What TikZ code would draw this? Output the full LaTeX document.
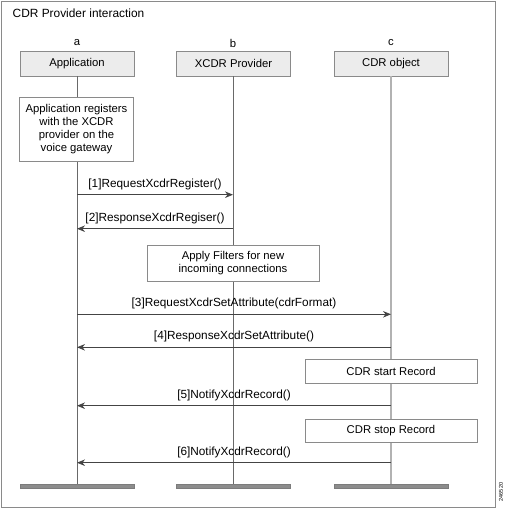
\documentclass[tikz,border=0pt]{standalone}
\usepackage{fontspec}
\setmainfont{Liberation Sans}
\usetikzlibrary{arrows.meta}
\definecolor{framegray}{HTML}{8A8A8A}
\definecolor{boxfill}{HTML}{ECECEC}
\definecolor{bargray}{HTML}{8C8C8C}
\definecolor{lineDark}{HTML}{444444}
\tikzset{
  hdr/.style={draw=framegray, fill=boxfill, minimum width=114pt, minimum height=25pt, inner sep=0pt, font=\fontsize{11.3}{13}\selectfont},
  notebox/.style={draw=framegray, fill=white, inner sep=0pt, align=center, font=\fontsize{11.3}{13}\selectfont},
  bar/.style={draw=lineDark!70, fill=bargray, minimum width=114pt, minimum height=4.5pt, inner sep=0pt},
  life/.style={draw=lineDark!80, line width=0.8pt},
  lifec/.style={draw=gray!60, line width=1.3pt},
  msg/.style={draw=lineDark, line width=0.8pt, -{Stealth[length=8pt,width=6.5pt]}},
  lbl/.style={font=\fontsize{11.8}{13}\selectfont, inner sep=0pt, above=4.5pt},
  tag/.style={font=\fontsize{11.3}{13}\selectfont, inner sep=0pt}
}
\begin{document}
\begin{tikzpicture}[x=1pt,y=-1pt]
\useasboundingbox (0,0) rectangle (507,509);
\draw[framegray, line width=1pt] (1.5,1.5) rectangle (495,507.5);
\node[tag, anchor=west, font=\fontsize{11.9}{13}\selectfont] (title) at (12.5,13.5) {CDR Provider interaction};
\node[tag] (la) at (77,43) {a};
\node[tag] (lb) at (233,43) {b};
\node[tag] (lc) at (391,43) {c};
\node[hdr] (A) at (77,63.5) {Application};
\node[hdr] (B) at (233.5,63.5) {XCDR Provider};
\node[hdr] (C) at (391,63.5) {CDR object};
\node[bar] (barA) at (77,486) {};
\node[bar] (barB) at (233.5,486) {};
\node[bar] (barC) at (391,486) {};
% lifelines
\draw[life] (A.south) -- (barA.north);
\draw[life] (B.south) -- (barB.north);
\draw[lifec] (C.south) -- (barC.north);
% note boxes
\node[notebox, minimum width=114pt, minimum height=64pt] (reg) at (76.5,129) {Application registers\\ with the XCDR\\ provider on the\\ voice gateway};
\node[notebox, minimum width=172pt, minimum height=36.5pt] (filt) at (233,263) {Apply Filters for new\\ incoming connections};
\node[notebox, minimum width=172pt, minimum height=24pt] (start) at (391,371.3) {CDR start Record};
\node[notebox, minimum width=172pt, minimum height=22.7pt] (stop) at (391,430.7) {CDR stop Record};
% message anchor points
\coordinate (a1) at (77,194.7); \coordinate (b1) at (233,194.7);
\coordinate (a2) at (77,228.7); \coordinate (b2) at (233,228.7);
\coordinate (a3) at (77,314.3); \coordinate (c3) at (391,314.3);
\coordinate (a4) at (77,347.3); \coordinate (c4) at (391,347.3);
\coordinate (a5) at (77,405.7); \coordinate (c5) at (391,405.7);
\coordinate (a6) at (77,462.7); \coordinate (c6) at (391,462.7);
\draw[msg] (a1) -- node[lbl] {[1]RequestXcdrRegister()} (b1);
\draw[msg] (b2) -- node[lbl] {[2]ResponseXcdrRegiser()} (a2);
\draw[msg] (a3) -- node[lbl] {[3]RequestXcdrSetAttribute(cdrFormat)} (c3);
\draw[msg] (c4) -- node[lbl] {[4]ResponseXcdrSetAttribute()} (a4);
\draw[msg] (c5) -- node[lbl] {[5]NotifyXcdrRecord()} (a5);
\draw[msg] (c6) -- node[lbl] {[6]NotifyXcdrRecord()} (a6);
\node[font=\fontsize{5.5}{6}\selectfont, inner sep=0pt, rotate=90] (fig) at (501,492) {246520};
\end{tikzpicture}
\end{document}
